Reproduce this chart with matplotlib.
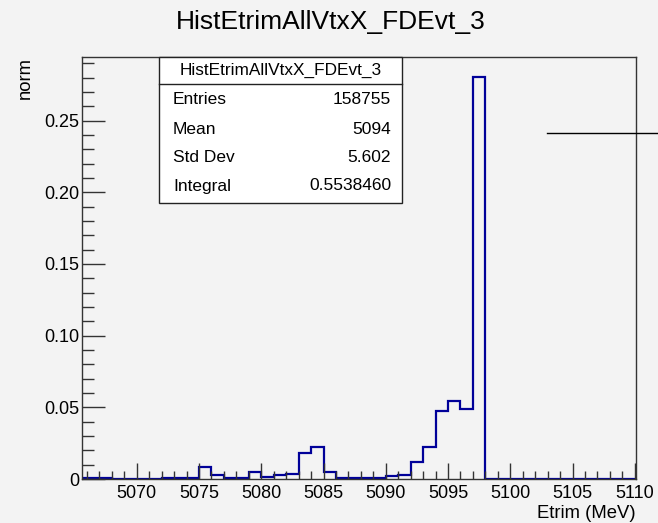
import matplotlib.pyplot as plt
from matplotlib.patches import Rectangle
from matplotlib.lines import Line2D
from matplotlib.ticker import MultipleLocator, FuncFormatter
import numpy as np

plt.rcParams['font.family'] = ['Liberation Sans', 'DejaVu Sans']

# bin edges of 1 MeV, contents normalised
edges = np.arange(5065, 5111, 1)
counts = [0.0005, 0.0010, 0.0010, 0.0, 0.0, 0.0, 0.0, 0.0005, 0.0005, 0.0010,
          0.0084, 0.0030, 0.0005, 0.0005, 0.0046, 0.0014, 0.0028, 0.0037, 0.0183, 0.0223,
          0.0046, 0.0010, 0.0005, 0.0005, 0.0010, 0.0020, 0.0028, 0.0119, 0.0221, 0.0472,
          0.0544, 0.0488, 0.2803, 0.0, 0.0, 0.0, 0.0, 0.0, 0.0, 0.0,
          0.0, 0.0, 0.0, 0.0, 0.0]

title = 'HistEtrimAllVtxX_FDEvt_3'
stat_names = ['Entries', 'Mean', 'Std Dev', 'Integral']
stat_values = ['158755', '5094', '5.602', '0.5538460']

W, H = 658, 523
bg = '#f3f3f3'
fig = plt.figure(figsize=(W / 100, H / 100), dpi=100, facecolor=bg)
ax = fig.add_axes([82 / W, 1 - 479 / H, (636 - 82) / W, (479 - 57) / H])
ax.set_facecolor(bg)

ax.stairs(counts, edges, color='#000099', linewidth=1.6, baseline=None)

ax.set_xlim(5065.6, 5110.1)
ax.set_ylim(0, 0.2943)

ax.xaxis.set_major_locator(MultipleLocator(5))
ax.xaxis.set_minor_locator(MultipleLocator(1))
ax.yaxis.set_major_locator(MultipleLocator(0.05))
ax.yaxis.set_minor_locator(MultipleLocator(0.01))
ax.yaxis.set_major_formatter(FuncFormatter(lambda v, p: '0' if abs(v) < 1e-9 else f'{v:.2f}'))

tick_col = '#333333'
ax.tick_params(axis='x', which='major', direction='in', length=11.5, width=1, color=tick_col,
               labelsize=13, pad=4)
ax.tick_params(axis='x', which='minor', direction='in', length=5.8, width=1, color=tick_col)
ax.tick_params(axis='y', which='major', direction='in', length=16.5, width=1, color=tick_col,
               labelsize=13, pad=2)
ax.tick_params(axis='y', which='minor', direction='in', length=8.5, width=1, color=tick_col)
for s in ax.spines.values():
    s.set_color('#333333')
    s.set_linewidth(1)

fig.text(331 / W, 1 - 22 / H, title, ha='center', va='center', fontsize=19)
fig.text(636 / W, 1 - 513 / H, 'Etrim (MeV)', ha='right', va='center', fontsize=13.3)
fig.text(25 / W, 1 - 57 / H, 'norm', ha='center', va='top', rotation=90, fontsize=13.3)

# stats box
bx0, bx1, by0, by1 = 159, 402, 57, 203
fig.patches.append(Rectangle((bx0 / W, 1 - by1 / H), (bx1 - bx0) / W, (by1 - by0) / H,
                             transform=fig.transFigure, facecolor='white', edgecolor='#222222',
                             linewidth=1, zorder=5))
fig.lines.append(Line2D([bx0 / W, bx1 / W], [1 - 84 / H, 1 - 84 / H],
                        transform=fig.transFigure, color='#222222', linewidth=1, zorder=6))
fig.text((bx0 + bx1) / 2 / W, 1 - 70 / H, title, ha='center', va='center', fontsize=12.4, zorder=7)
rows_y = [99, 129, 157, 186]
for name, val, y in zip(stat_names, stat_values, rows_y):
    fig.text(173 / W, 1 - y / H, name, ha='left', va='center', fontsize=12.5, zorder=7)
    fig.text(391 / W, 1 - y / H, val, ha='right', va='center', fontsize=12.5, zorder=7)

fig.lines.append(Line2D([547 / W, 1.0], [1 - 133 / H, 1 - 133 / H],
                        transform=fig.transFigure, color='black', linewidth=1))

fig.savefig('out.png', dpi=100, facecolor=bg)
